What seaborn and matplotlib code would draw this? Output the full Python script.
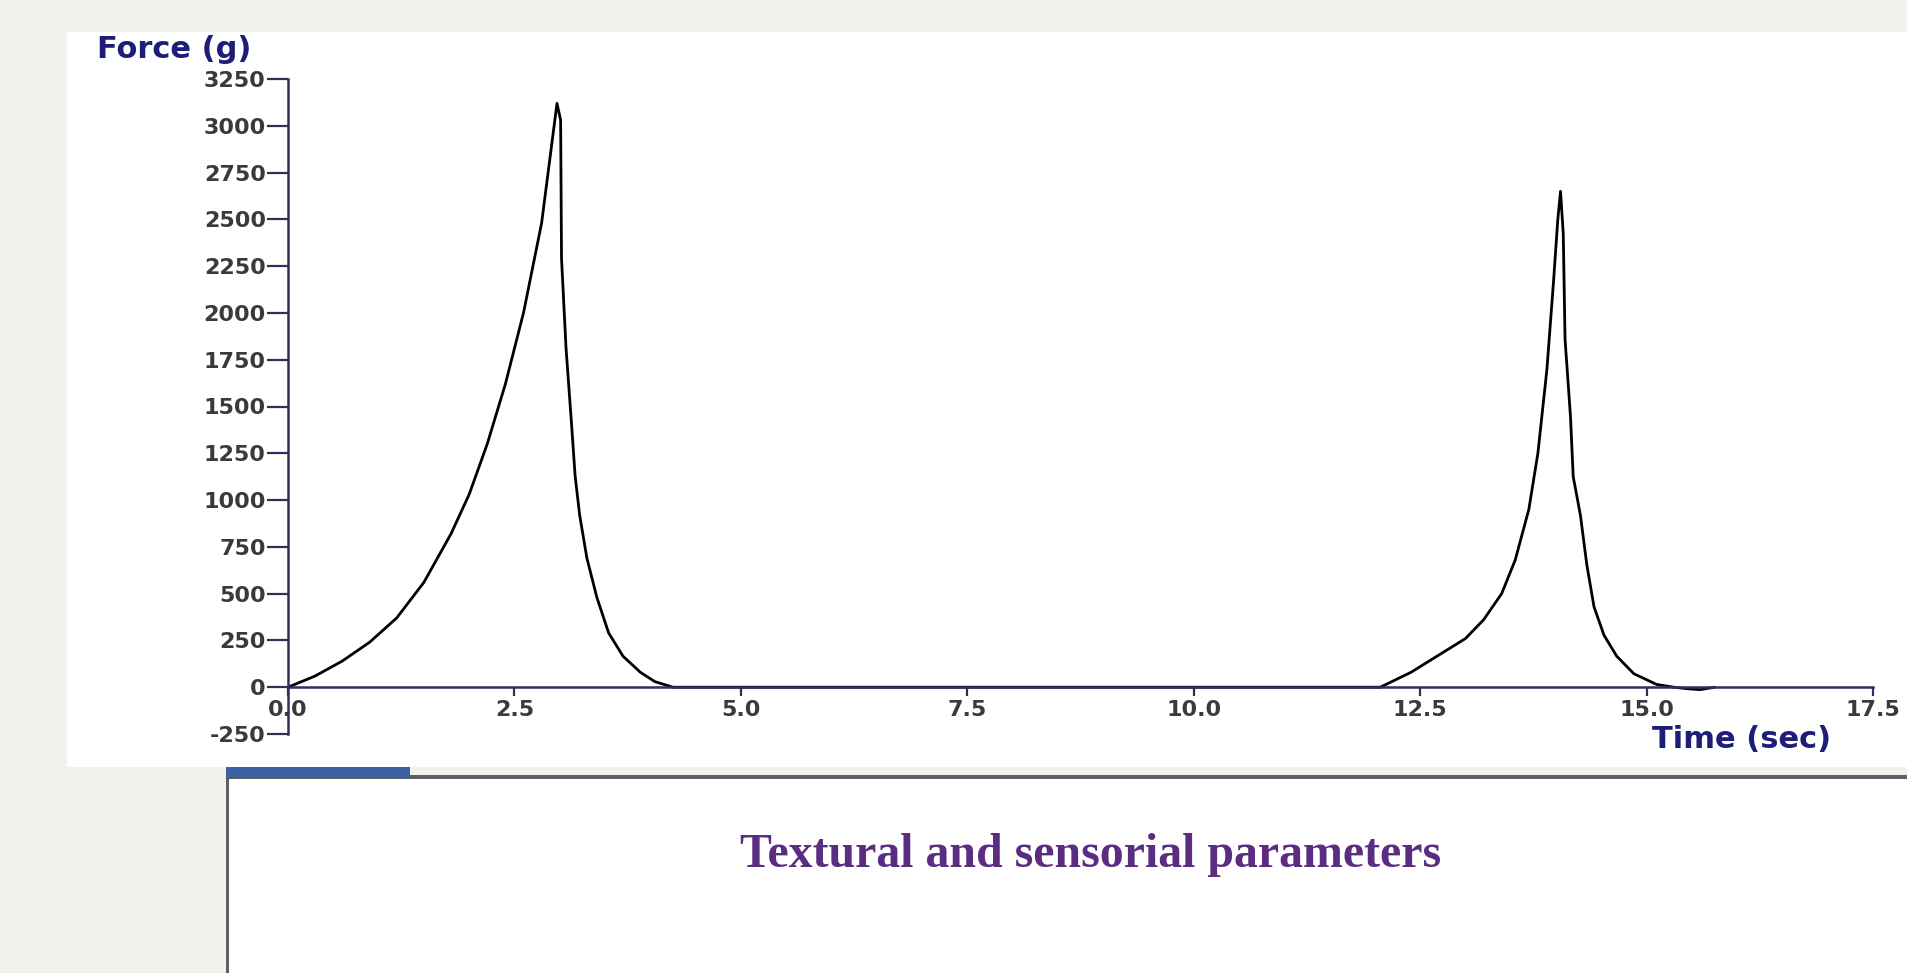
import matplotlib
matplotlib.use("Agg")
import matplotlib.pyplot as plt
import pandas as pd
import seaborn as sns
from matplotlib.patches import Rectangle

# ---------------- data ----------------
time_s = [0.00, 0.30, 0.60, 0.90, 1.20, 1.50, 1.80, 2.00, 2.20, 2.40, 2.60,
          2.80, 2.97, 3.01, 3.02, 3.07, 3.13, 3.17, 3.22, 3.30, 3.41,
          3.54, 3.70, 3.89, 4.05, 4.25, 8.00, 12.06, 12.40, 12.70, 13.00,
          13.20, 13.40, 13.55, 13.70, 13.80, 13.90, 13.97, 14.02, 14.05,
          14.08, 14.10, 14.16, 14.19, 14.27, 14.34, 14.42, 14.53, 14.67,
          14.86, 15.11, 15.30, 15.45, 15.59, 15.75]
force_g = [0, 60, 140, 240, 370, 560, 820, 1030, 1300, 1620, 2000,
           2480, 3120, 3030, 2290, 1810, 1410, 1130, 920, 690, 480,
           290, 165, 80, 30, 0, 0, 0, 80, 170, 260,
           360, 500, 680, 950, 1250, 1700, 2150, 2500, 2650,
           2424, 1859, 1445, 1125, 918, 655, 429, 278, 166,
           72, 15, 0, -8, -13, 0]

x_ticks = [0.0, 2.5, 5.0, 7.5, 10.0, 12.5, 15.0, 17.5]
x_tick_labels = ["0.0", "2.5", "5.0", "7.5", "10.0", "12.5", "15.0", "17.5"]
y_ticks = [-250, 0, 250, 500, 750, 1000, 1250, 1500, 1750, 2000, 2250,
           2500, 2750, 3000, 3250]
y_tick_labels = ["-250", "0", "250", "500", "750", "1000", "1250", "1500",
                 "1750", "2000", "2250", "2500", "2750", "3000", "3250"]
x_label = "Time (sec)"
y_label = "Force (g)"
title_text = "Textural and sensorial parameters"

# ---------------- style ----------------
sns.set_theme(style="white")
plt.rcParams["font.family"] = ["DejaVu Sans"]

W, H = 1907, 973
fig = plt.figure(figsize=(W / 100, H / 100), dpi=100, facecolor="#f2f2ec")


def fx(px):
    return px / W


def fy(py):
    return 1 - py / H


def add_rect(x0, y0, x1, y1, color):
    # pixel coords (top-left origin) -> figure fraction
    fig.patches.append(Rectangle((fx(x0), fy(y1)), fx(x1) - fx(x0), fy(y0) - fy(y1),
                                 transform=fig.transFigure, facecolor=color,
                                 edgecolor="none", zorder=-5))


# white chart panel
add_rect(67, 32, 1907, 767, "white")
# lower text box
add_rect(226, 776, 1907, 973, "white")
add_rect(226, 775, 1907, 779, "#5f6063")
add_rect(226, 775, 229, 973, "#5f6063")
add_rect(226, 767, 410, 778, "#3d62a3")

ax = fig.add_axes([fx(288), fy(734), fx(1873) - fx(288), fy(79) - fy(734)])
ax.set_facecolor("none")
ax.set_zorder(2)

df = pd.DataFrame({"time": time_s, "force": force_g})
sns.lineplot(data=df, x="time", y="force", sort=False, estimator=None,
             color="black", linewidth=2.0, ax=ax)

ax.set_xlim(0, 17.5)
ax.set_ylim(-250, 3250)

axis_col = "#30305a"
for s in ["top", "right"]:
    ax.spines[s].set_visible(False)
ax.spines["bottom"].set_position(("data", 0))
for s in ["left", "bottom"]:
    ax.spines[s].set_color(axis_col)
    ax.spines[s].set_linewidth(1.8)

ax.set_xticks(x_ticks, labels=x_tick_labels)
ax.set_yticks(y_ticks, labels=y_tick_labels)
ax.tick_params(axis="y", direction="out", length=15, width=1.6, pad=1,
               labelsize=16, labelcolor="#3a3a3a", color=axis_col, left=True)
ax.tick_params(axis="x", direction="out", length=6.5, width=1.6, pad=3,
               labelsize=16, labelcolor="#3a3a3a", color=axis_col, bottom=True)
for lbl in ax.get_xticklabels() + ax.get_yticklabels():
    lbl.set_fontweight("bold")

label_col = "#1e1e78"
ax.set_xlabel(x_label, fontsize=22, fontweight="bold", color=label_col,
              ha="center", va="center")
ax.xaxis.set_label_coords(fx(1742), fy(739), transform=fig.transFigure)
ax.set_ylabel(y_label, fontsize=22, fontweight="bold", color=label_col,
              rotation=0, ha="center", va="center")
ax.yaxis.set_label_coords(fx(174), fy(50), transform=fig.transFigure)

fig.text(fx(1091), fy(855), title_text, ha="center", va="center",
         family=["Liberation Serif", "DejaVu Serif"], fontweight="bold",
         fontsize=34.5, color="#5a2d82")

fig.savefig("out.png", dpi=100, facecolor=fig.get_facecolor())
